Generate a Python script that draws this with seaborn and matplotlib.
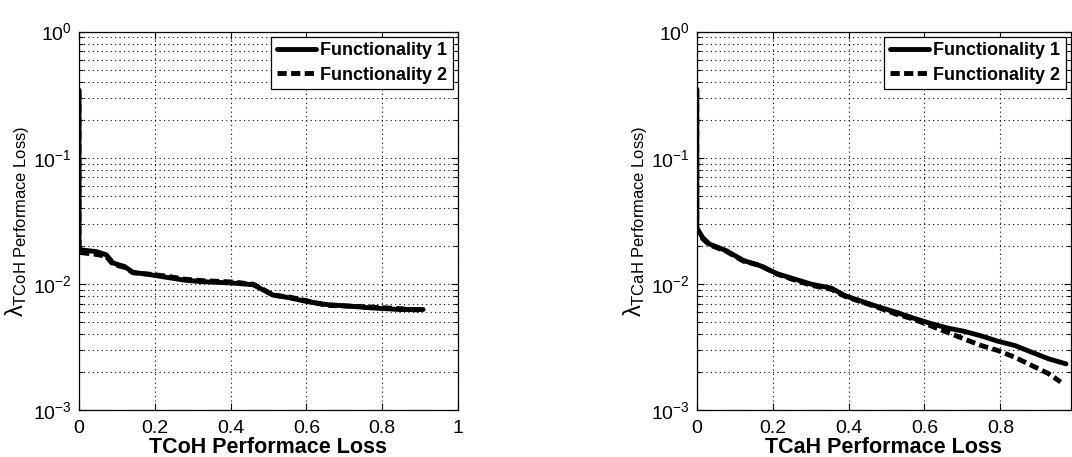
import numpy as np
import pandas as pd
import seaborn as sns
import matplotlib
matplotlib.use("Agg")
import matplotlib.pyplot as plt
from matplotlib.ticker import FormatStrFormatter

# ── 데이터 ─────────────────────────────────────────
# 왼쪽: TCoH
tcoh_x1 = [0.0, 0.0, 0.004, 0.046, 0.072, 0.09, 0.12, 0.143, 0.187, 0.23, 0.275,
           0.319, 0.407, 0.46, 0.486, 0.512, 0.556, 0.60, 0.653, 0.715, 0.768, 0.847, 0.908]
tcoh_y1 = [0.345, 0.0187, 0.0187, 0.0181, 0.0171, 0.0147, 0.0138, 0.0124, 0.0119, 0.01135, 0.0108,
           0.0105, 0.0102, 0.0099, 0.0090, 0.0082, 0.0078, 0.0073, 0.0069, 0.0067, 0.0065, 0.0063, 0.0063]
tcoh_x2 = [0.0, 0.0, 0.004, 0.046, 0.072, 0.09, 0.12, 0.143, 0.187, 0.23, 0.275,
           0.319, 0.407, 0.46, 0.486, 0.512, 0.556, 0.60, 0.653, 0.715, 0.768, 0.847, 0.908]
tcoh_y2 = [0.345, 0.0180, 0.0178, 0.0172, 0.0166, 0.0143, 0.0136, 0.0123, 0.0120, 0.0116, 0.0110,
           0.0107, 0.0104, 0.0100, 0.0091, 0.0082, 0.0079, 0.0074, 0.0068, 0.0067, 0.0066, 0.0064, 0.0062]

# 오른쪽: TCaH
tcah_x1 = [0.0, 0.0, 0.015, 0.033, 0.078, 0.123, 0.167, 0.212, 0.257, 0.302, 0.355, 0.391,
           0.436, 0.48, 0.525, 0.57, 0.615, 0.66, 0.704, 0.749, 0.794, 0.838, 0.883, 0.928, 0.973]
tcah_y1 = [0.35, 0.028, 0.0235, 0.0208, 0.0184, 0.0154, 0.0140, 0.0121, 0.0110, 0.0100, 0.0093, 0.0081,
           0.0073, 0.0066, 0.0060, 0.0054, 0.0049, 0.0045, 0.00424, 0.0039, 0.00353, 0.00327, 0.00289, 0.00256, 0.00234]
tcah_x2 = [0.0, 0.0, 0.015, 0.033, 0.078, 0.123, 0.167, 0.212, 0.257, 0.302, 0.355, 0.391,
           0.436, 0.48, 0.525, 0.57, 0.615, 0.66, 0.704, 0.749, 0.794, 0.838, 0.883, 0.928, 0.959]
tcah_y2 = [0.35, 0.027, 0.0230, 0.0205, 0.0182, 0.0152, 0.0141, 0.0120, 0.0108, 0.0098, 0.0091, 0.0080,
           0.0072, 0.0065, 0.0058, 0.0053, 0.0047, 0.00416, 0.00369, 0.00327, 0.00298, 0.00264, 0.00227, 0.00195, 0.00168]

labels = ['Functionality 1', 'Functionality 2']

sns.set_style('ticks')
plt.rcParams['font.family'] = ['Liberation Sans', 'DejaVu Sans']
plt.rcParams['mathtext.fontset'] = 'custom'
plt.rcParams['mathtext.rm'] = 'Liberation Sans'
plt.rcParams['mathtext.it'] = 'Liberation Sans'
plt.rcParams['mathtext.bf'] = 'Liberation Sans:bold'
for k in ['text.color', 'axes.labelcolor', 'xtick.color', 'ytick.color']:
    plt.rcParams[k] = 'black'

fig = plt.figure(figsize=(10.72, 4.57), dpi=100)
ax1 = fig.add_axes([0.0737, 0.1018, 0.3535, 0.829])
ax2 = fig.add_axes([0.650, 0.1018, 0.349, 0.829])

panels = [
    (ax1, tcoh_x1, tcoh_y1, tcoh_x2, tcoh_y2, 'TCoH', 1.0),
    (ax2, tcah_x1, tcah_y1, tcah_x2, tcah_y2, 'TCaH', 0.986),
]

for ax, x1, y1, x2, y2, name, xmax in panels:
    df1 = pd.DataFrame({'x': x1, 'y': y1})
    df2 = pd.DataFrame({'x': x2, 'y': y2})
    sns.lineplot(data=df2, x='x', y='y', ax=ax, sort=False, estimator=None,
                 color='black', linewidth=3.5, label=labels[1], zorder=3)
    sns.lineplot(data=df1, x='x', y='y', ax=ax, sort=False, estimator=None,
                 color='black', linewidth=3.5, label=labels[0], zorder=4)
    ax.lines[0].set_dashes((1.9, 0.9))

    ax.set_yscale('log')
    ax.set_ylim(1e-3, 1)
    ax.set_xticks([0, 0.2, 0.4, 0.6, 0.8, 1.0])
    ax.set_xlim(0, xmax)
    ax.xaxis.set_major_formatter(FormatStrFormatter('%g'))

    ax.grid(True, which='major', axis='x', linestyle=(0, (1, 3)), color='black', linewidth=0.8)
    ax.grid(True, which='both', axis='y', linestyle=(0, (1, 3)), color='black', linewidth=0.8)
    ax.set_axisbelow(True)

    ax.tick_params(which='both', direction='in', top=True, right=True, labelsize=14, width=0.8)
    ax.tick_params(which='major', length=5, pad=5)
    ax.tick_params(which='minor', length=3)
    ax.tick_params(axis='x', which='major', pad=7)
    for sp in ax.spines.values():
        sp.set_linewidth(0.9)
        sp.set_color('black')

    ax.set_xlabel(f'{name} Performace Loss', fontsize=15.5, fontweight='bold', labelpad=0)
    ax.set_ylabel(r'$\lambda_{\mathrm{' + name + r'\ Performace\ Loss)}}$', fontsize=17, labelpad=1)

    h, l = ax.get_legend_handles_labels()
    leg = ax.legend(h[::-1], l[::-1], loc='upper right', fancybox=False, framealpha=1,
                    edgecolor='black', prop={'weight': 'bold', 'size': 13},
                    handlelength=2.15, handletextpad=0.25, labelspacing=0.4,
                    borderaxespad=0.3, borderpad=0.3)
    leg.get_frame().set_linewidth(0.9)

fig.savefig('out.png', dpi=100)
